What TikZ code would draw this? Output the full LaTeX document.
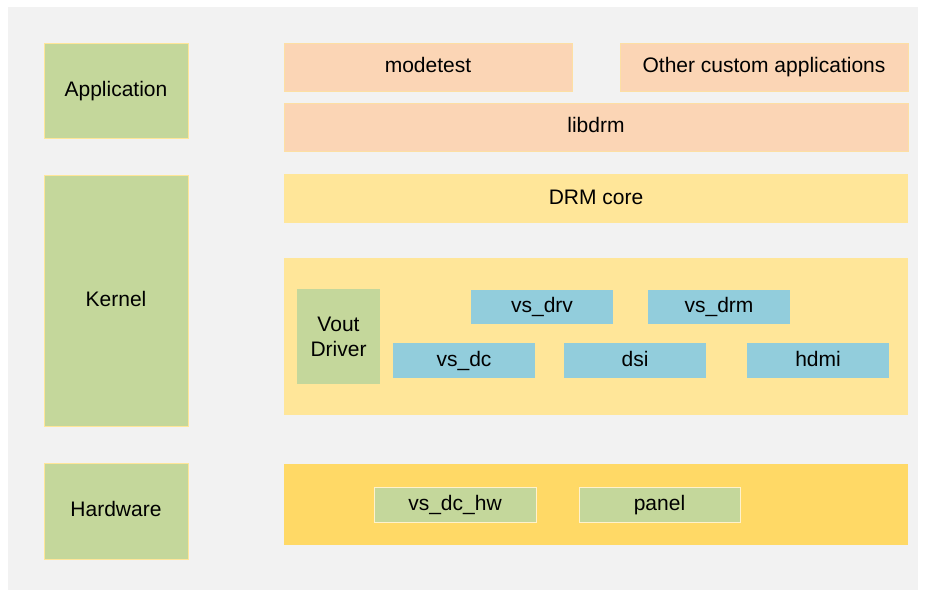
\documentclass[tikz,border=0pt]{standalone}
\usepackage{fontspec}
\setmainfont{Liberation Sans}
\definecolor{bggray}{HTML}{F2F2F2}
\definecolor{lgreen}{HTML}{C4D79B}
\definecolor{peach}{HTML}{FBD5B5}
\definecolor{pyellow}{HTML}{FFE699}
\definecolor{dyellow}{HTML}{FFD966}
\definecolor{aqua}{HTML}{92CDDC}
\tikzset{
  box/.style={rectangle, inner sep=0pt, outer sep=0pt, align=center,
    font=\fontsize{21}{25}\selectfont, text=black},
  oneline/.style={text height=15.5pt, text depth=4.5pt},
  layerbox/.style={box, oneline, fill=lgreen, draw=pyellow, line width=0.8pt},
  appbox/.style={box, oneline, fill=peach, draw=pyellow!60!peach, line width=0.6pt},
  kernbox/.style={box, oneline, fill=pyellow},
  hwbox/.style={box, fill=dyellow},
  modbox/.style={box, oneline, fill=aqua},
  voutbox/.style={box, fill=lgreen},
  hwmod/.style={box, oneline, fill=lgreen, draw=pyellow!50!white, line width=0.6pt},
}
\begin{document}
\begin{tikzpicture}[x=1pt,y=-1pt]
\useasboundingbox (0,0) rectangle (925,590);
\fill[white] (0,0) rectangle (925,590);
\fill[bggray] (8,7) rectangle (918,590);
% left layer boxes
\node[layerbox, minimum width=144, minimum height=95] (app) at (116,90.5) {Application};
\node[layerbox, minimum width=144, minimum height=251] (kernel) at (116,300.5) {Kernel};
\node[layerbox, minimum width=144, minimum height=96] (hw) at (116,511) {Hardware};
% application layer
\node[appbox, minimum width=288, minimum height=48] (modetest) at (428,67) {modetest};
\node[appbox, minimum width=288, minimum height=48] (other) at (764,67) {Other custom applications};
\node[appbox, minimum width=624, minimum height=48] (libdrm) at (596,127) {libdrm};
% kernel layer
\node[kernbox, minimum width=624, minimum height=49] (drmcore) at (596,198.5) {DRM core};
\node[kernbox, minimum width=624, minimum height=157] (kdrv) at (596,336.5) {};
\node[voutbox, minimum width=83, minimum height=95] (vout) at (338.5,336.5) {Vout\\Driver};
\node[modbox, minimum width=142, minimum height=34] (vsdrv) at (542,307) {vs\_drv};
\node[modbox, minimum width=142, minimum height=34] (vsdrm) at (719,307) {vs\_drm};
\node[modbox, minimum width=142, minimum height=35] (vsdc) at (464,360.5) {vs\_dc};
\node[modbox, minimum width=142, minimum height=35] (dsi) at (635,360.5) {dsi};
\node[modbox, minimum width=142, minimum height=35] (hdmi) at (818,360.5) {hdmi};
% hardware layer
\node[hwbox, minimum width=624, minimum height=81] (hwarea) at (596,504.5) {};
\node[hwmod, minimum width=162, minimum height=35] (vsdchw) at (455,504.5) {vs\_dc\_hw};
\node[hwmod, minimum width=161, minimum height=35] (panel) at (659.5,504.5) {panel};
\end{tikzpicture}
\end{document}
